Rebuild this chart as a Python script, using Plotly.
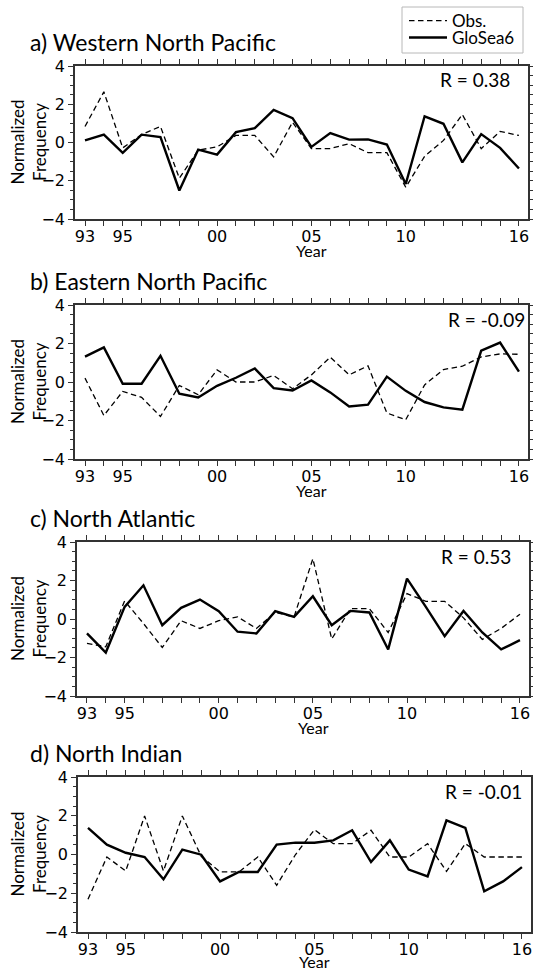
import plotly.graph_objects as go

# ---------------- data ----------------
years = list(range(1993, 2017))
tick_label_map = {1993: "93", 1995: "95", 2000: "00", 2005: "05", 2010: "10", 2016: "16"}

panel_titles = ["a) Western North Pacific", "b) Eastern North Pacific",
                "c) North Atlantic", "d) North Indian"]
r_labels = ["R = 0.38", "R = -0.09", "R = 0.53", "R = -0.01"]
series_names = ["Obs.", "GloSea6"]

obs_wnp = [0.84, 2.65, -0.28, 0.42, 0.84, -1.87, -0.40, -0.23, 0.37, 0.37, -0.75, 1.06,
           -0.32, -0.32, -0.06, -0.53, -0.53, -2.34, -0.72, 0.11, 1.46, -0.32, 0.58, 0.37]
gs_wnp = [0.11, 0.41, -0.54, 0.41, 0.28, -2.51, -0.37, -0.63, 0.54, 0.75, 1.70, 1.27,
          -0.23, 0.49, 0.15, 0.16, -0.11, -2.17, 1.37, 0.98, -1.04, 0.44, -0.28, -1.36]

obs_enp = [0.20, -1.74, -0.49, -0.80, -1.79, -0.18, -0.66, 0.63, 0.00, 0.00, 0.34, -0.35,
           0.37, 1.29, 0.37, 0.84, -1.61, -1.96, -0.15, 0.65, 0.82, 1.30, 1.46, 1.44]
gs_enp = [1.32, 1.80, -0.09, -0.09, 1.36, -0.61, -0.80, -0.20, 0.22, 0.70, -0.32, -0.44,
          0.08, -0.54, -1.27, -1.18, 0.28, -0.46, -1.04, -1.32, -1.44, 1.63, 2.05, 0.54]

obs_na = [-1.27, -1.44, 0.94, -0.23, -1.48, -0.09, -0.49, -0.09, 0.11, -0.49, 0.34, 0.11,
          3.13, -1.04, 0.54, 0.54, -0.70, 1.32, 0.92, 0.92, 0.06, -1.06, -0.49, 0.25]
gs_na = [-0.75, -1.74, 0.63, 1.75, -0.32, 0.58, 1.01, 0.41, -0.66, -0.75, 0.41, 0.11,
         1.18, -0.32, 0.42, 0.34, -1.58, 2.10, 0.63, -0.89, 0.42, -0.70, -1.58, -1.10]

obs_ni = [-2.31, -0.13, -0.85, 1.99, -0.85, 1.99, -0.09, -0.90, -0.90, -0.13, -1.59, 0.00,
          1.28, 0.56, 0.56, 1.25, -0.13, -0.13, 0.56, -0.87, 0.56, -0.13, -0.13, -0.13]
gs_ni = [1.37, 0.51, 0.09, -0.13, -1.28, 0.25, -0.01, -1.39, -0.90, -0.90, 0.51, 0.61,
         0.61, 0.73, 1.25, -0.39, 0.73, -0.78, -1.13, 1.76, 1.37, -1.90, -1.39, -0.65]

obs_series = [obs_wnp, obs_enp, obs_na, obs_ni]
gs_series = [gs_wnp, gs_enp, gs_na, gs_ni]

# ---------------- layout geometry (pixels) ----------------
W, H = 533, 972
x_doms_px = [(75, 528), (75, 528), (77, 529), (78, 531)]
y_doms_px = [(66, 219), (305, 459), (542, 696), (777, 932)]
r_left_px = [438, 446, 439, 443]
year_gap_px = [31, 31, 31, 29]

def px_x(p):
    return p / W

def px_y(p):
    return 1 - p / H

TEXT_FONT = "Lato, 'Open Sans', sans-serif"
TICK_FONT = "DejaVu Sans, sans-serif"
AX_COLOR = "#333333"

fig = go.Figure()
annotations = []
layout_axes = {}

ticktext = [tick_label_map.get(y, "") for y in years]

for i in range(4):
    n = "" if i == 0 else str(i + 1)
    xref, yref = "x" + n, "y" + n
    fig.add_trace(go.Scatter(
        x=years, y=obs_series[i], mode="lines", name=series_names[0],
        line=dict(color="black", width=1.3, dash="5.5px,3.5px"),
        xaxis=xref, yaxis=yref, showlegend=(i == 0), legend="legend"))
    fig.add_trace(go.Scatter(
        x=years, y=gs_series[i], mode="lines", name=series_names[1],
        line=dict(color="black", width=2.4),
        xaxis=xref, yaxis=yref, showlegend=(i == 0), legend="legend2"))

    x0, x1 = x_doms_px[i]
    yt, yb = y_doms_px[i]
    layout_axes["xaxis" + n] = dict(
        domain=[px_x(x0), px_x(x1)], anchor=yref, range=[1992.47, 2016.48],
        tickmode="array", tickvals=years, ticktext=ticktext,
        ticks="outside", ticklen=5, tickwidth=1.3, tickcolor=AX_COLOR,
        ticklabelstandoff=-3, automargin=False,
        showline=True, linecolor=AX_COLOR, linewidth=1.5, mirror="allticks",
        showgrid=False, zeroline=False,
        tickfont=dict(family=TICK_FONT, size=16, color="black"))
    layout_axes["yaxis" + n] = dict(
        domain=[px_y(yb), px_y(yt)], anchor=xref, range=[-4, 4],
        tickmode="array", tickvals=[-4, -2, 0, 2, 4], automargin=False,
        ticks="outside", ticklen=5, tickwidth=1.3, tickcolor=AX_COLOR,
        minor=dict(dtick=0.5, ticks="outside", ticklen=3, tickwidth=1, tickcolor=AX_COLOR),
        showline=True, linecolor=AX_COLOR, linewidth=1.5, mirror="allticks",
        showgrid=False, zeroline=False,
        tickfont=dict(family=TICK_FONT, size=16, color="black"))

    # panel title
    annotations.append(dict(
        text=panel_titles[i], xref="paper", yref="paper",
        x=px_x(28), y=px_y(yt - 24), xanchor="left", yanchor="middle",
        showarrow=False, font=dict(family=TEXT_FONT, size=23, color="black")))
    # R annotation
    annotations.append(dict(
        text=r_labels[i], xref="paper", yref="paper",
        x=px_x(r_left_px[i]), y=px_y(yt + 14), xanchor="left", yanchor="middle",
        showarrow=False, font=dict(family=TEXT_FONT, size=19, color="black")))
    # y-axis title
    annotations.append(dict(
        text="Normalized<br>Frequency", xref="paper", yref="paper",
        x=px_x(28), y=px_y((yt + yb) / 2), xanchor="center", yanchor="middle",
        textangle=-90, showarrow=False,
        font=dict(family=TEXT_FONT, size=17, color="black")))
    # x-axis title
    annotations.append(dict(
        text="Year", xref="paper", yref="paper",
        x=px_x((x0 + x1) / 2 + 10), y=px_y(yb + year_gap_px[i]),
        xanchor="center", yanchor="middle", borderpad=0,
        showarrow=False, font=dict(family=TEXT_FONT, size=16, color="black")))

legend_common = dict(xanchor="left", yanchor="middle", bgcolor="rgba(0,0,0,0)",
                     borderwidth=0, itemwidth=38,
                     font=dict(family=TEXT_FONT, size=17, color="black"))

fig.update_layout(
    width=W, height=H, margin=dict(l=0, r=0, t=0, b=0, autoexpand=False),
    paper_bgcolor="white", plot_bgcolor="white",
    showlegend=True,
    legend=dict(x=px_x(404), y=px_y(21), **legend_common),
    legend2=dict(x=px_x(404), y=px_y(38), **legend_common),
    shapes=[dict(type="rect", xref="paper", yref="paper",
                 x0=px_x(402), x1=px_x(523), y0=px_y(53), y1=px_y(7),
                 line=dict(color="#b8b8b8", width=1), fillcolor="rgba(0,0,0,0)",
                 layer="below")],
    annotations=annotations,
    **layout_axes)

fig.write_html(
    "out.html", config={"displayModeBar": False},
    post_script=("document.documentElement.style.margin='0';"
                 "document.documentElement.style.padding='0';"
                 "document.documentElement.style.overflow='hidden';"
                 "document.body.style.margin='0';"
                 "document.body.style.padding='0';"
                 "document.body.style.overflow='hidden';"
                 "var gd=document.getElementById('{plot_id}');"
                 "gd.style.position='fixed';gd.style.top='0px';gd.style.left='0px';"))
